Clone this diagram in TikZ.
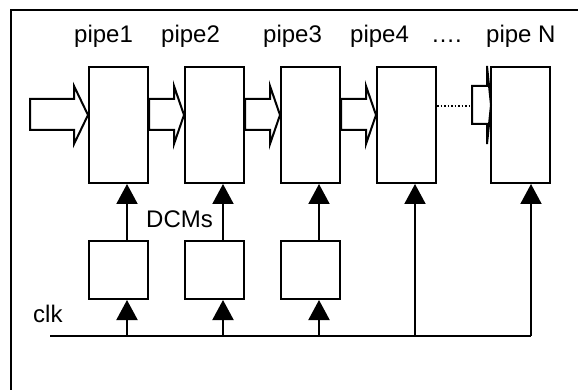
\documentclass[tikz,border=0pt]{standalone}
\usepackage{fontspec}
\setmainfont{Liberation Sans}
\usetikzlibrary{calc,arrows.meta}

% hollow block arrow between two pipeline stages
\newcommand{\pipearrow}[2]{%
  \draw[flow] (#1 |- 0,99) -- ($(#2.west |- 0,99)+(-10,0)$)
    -- ($(#2.west |- 0,86)+(-10,0)$) -- (#2.west |- 0,115)
    -- ($(#2.west |- 0,144)+(-10,0)$) -- ($(#2.west |- 0,130)+(-10,0)$)
    -- (#1 |- 0,130) -- cycle;}

\begin{document}
\begin{tikzpicture}[x=1pt,y=-1pt,
  txt/.style={font=\fontsize{24pt}{28pt}\selectfont},
  stage/.style={draw, line width=2pt, fill=white, inner sep=0pt,
    minimum width=59pt, minimum height=116pt, anchor=north west},
  dcm/.style={draw, line width=2pt, fill=white, inner sep=0pt,
    minimum width=59pt, minimum height=58pt, anchor=north west},
  lbl/.style={txt, anchor=base west, inner sep=0pt},
  flow/.style={draw, line width=2pt, line join=miter, fill=white},
  wire/.style={line width=2pt},
  clkarrow/.style={line width=2pt, -{Triangle[width=21pt,length=20pt]}}]

\useasboundingbox (0,0) rectangle (578,390);
\fill[white] (0,0) rectangle (578,390);

% outer frame (only the top and left edges are in view)
\draw[line width=2pt] (11,390) -- (11,10) -- (578,10);

% pipeline stages
\node[stage] (p1) at (88,66) {};
\node[stage] (p2) at (184,66) {};
\node[stage] (p3) at (280,66) {};
\node[stage] (p4) at (376,66) {};
\node[stage] (pN) at (490,66) {};

% stage labels
\node[lbl] (l1) at (74,43) {pipe1};
\node[lbl] (l2) at (161,43) {pipe2};
\node[lbl] (l3) at (263,43) {pipe3};
\node[lbl] (l4) at (350,43) {pipe4};
\node[lbl] (ld) at (431,43) {….};
\node[lbl] (lN) at (486,43) {pipe N};

% data flow between stages
\coordinate (in) at (30,115);
\draw[flow] (in |- 0,99) -- (74,99) -- (74,86) -- (p1.west |- 0,115)
  -- (74,144) -- (74,130) -- (in |- 0,130) -- cycle;
\pipearrow{p1.east}{p2}
\pipearrow{p2.east}{p3}
\pipearrow{p3.east}{p4}

% elided stages before the last one
\coordinate (gap) at (472,106);
\draw[line width=1.5pt, dotted] (p4.east |- gap) -- (gap);
\draw[flow, fill=none] (472,86) -- (487,86) -- (487,66) -- (491,105)
  -- (487,144) -- (487,124) -- (472,124) -- cycle;

% DCM blocks
\node[dcm] (d1) at (88,240) {};
\node[dcm] (d2) at (184,240) {};
\node[dcm] (d3) at (280,240) {};
\node[lbl] (ldcm) at (146,227) {DCMs};

% clock distribution
\node[lbl] (lclk) at (33,322) {clk};
\coordinate (c0) at (50,336);
\coordinate (c1) at (127,336);
\coordinate (c2) at (223,336);
\coordinate (c3) at (319,336);
\coordinate (c4) at (415,336);
\coordinate (c5) at (531,336);
\draw[wire] (c0) -- (c5);

\draw[clkarrow] (c1) -- (c1 |- d1.south);
\draw[clkarrow] (c2) -- (c2 |- d2.south);
\draw[clkarrow] (c3) -- (c3 |- d3.south);
\draw[clkarrow] (c1 |- d1.north) -- (c1 |- p1.south);
\draw[clkarrow] (c2 |- d2.north) -- (c2 |- p2.south);
\draw[clkarrow] (c3 |- d3.north) -- (c3 |- p3.south);
\draw[clkarrow] (c4) -- (c4 |- p4.south);
\draw[clkarrow] (c5) -- (c5 |- pN.south);
\end{tikzpicture}
\end{document}
